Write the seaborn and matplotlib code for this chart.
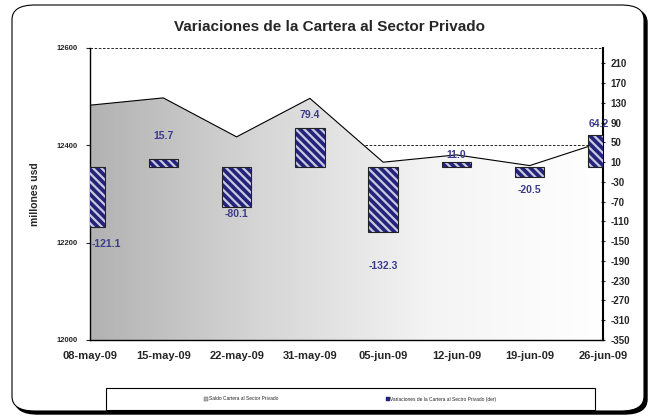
import numpy as np
import pandas as pd
import seaborn as sns
import matplotlib.pyplot as plt
from matplotlib.patches import FancyBboxPatch, Polygon, Patch, Rectangle
from matplotlib.colors import LinearSegmentedColormap

# Data
fechas = ['08-may-09', '15-may-09', '22-may-09', '31-may-09',
          '05-jun-09', '12-jun-09', '19-jun-09', '26-jun-09']
saldo = [12482, 12497, 12417, 12496, 12365, 12380, 12358, 12407]
variacion = [-121.1, 15.7, -80.1, 79.4, -132.3, 11.0, -20.5, 64.2]
# label offsets in points (Excel placed them irregularly)
label_off = [-12, 17, -5, 9, -24, 5, -9, 8]
label_dx = [12, 0, 0, 0, 0, 0, 0, -3]

df = pd.DataFrame({'fecha': fechas, 'pos': range(len(fechas)),
                   'saldo': saldo, 'variacion': variacion})

sns.set_style('white')
plt.rcParams['font.family'] = ['Liberation Sans', 'DejaVu Sans']
plt.rcParams['font.weight'] = 'bold'
plt.rcParams['axes.unicode_minus'] = False
plt.rcParams['hatch.linewidth'] = 1.6

fig = plt.figure(figsize=(6.52, 4.17), dpi=100)

# rounded frame with shadow
shadow = FancyBboxPatch((15 / 652, 3 / 417), 632 / 652, 406 / 417,
                        boxstyle='round,pad=0,rounding_size=0.035',
                        transform=fig.transFigure, facecolor='black',
                        edgecolor='black', lw=1, zorder=-2)
frame = FancyBboxPatch((12 / 652, 6 / 417), 632 / 652, 406 / 417,
                       boxstyle='round,pad=0,rounding_size=0.035',
                       transform=fig.transFigure, facecolor='white',
                       edgecolor='black', lw=0.8, zorder=-1)
legbox = Rectangle((106 / 652, 7 / 417), 489 / 652, 22 / 417,
                   transform=fig.transFigure, facecolor='white',
                   edgecolor='black', lw=0.8, zorder=-0.5)
fig.patches.extend([shadow, frame, legbox])

ax = fig.add_axes([90 / 652, 77 / 417, 513 / 652, 292.3 / 417])
ax.set_facecolor('none')

# dashed gridlines (hidden under the area)
for v in [12400, 12600]:
    ax.axhline(v, color='black', ls=(0, (3, 2)), lw=0.6, zorder=0.5)

# gradient area
grad = LinearSegmentedColormap.from_list('g', ['#b2b2b2', '#d6d6d6', '#f4f4f4', '#ffffff'])
img = ax.imshow(np.linspace(0, 1, 256).reshape(1, -1), cmap=grad, aspect='auto',
                extent=[0, len(fechas) - 1, 12000, 12600], zorder=1)
poly = Polygon(list(zip(df['pos'], df['saldo'])) + [(len(fechas) - 1, 12000), (0, 12000)],
               closed=True, transform=ax.transData, facecolor='none', edgecolor='none')
ax.add_patch(poly)
img.set_clip_path(poly)
sns.lineplot(data=df, x='pos', y='saldo', ax=ax, color='black', lw=0.8, zorder=2)
ax.set_xlim(0, len(fechas) - 1)
ax.set_ylim(12000, 12600)
ax.set_yticks([12000, 12200, 12400, 12600])

ax.set_xticks(df['pos'])
ax.set_xticklabels(fechas, fontsize=8, fontweight='bold')
ax.tick_params(axis='y', labelsize=5.5, length=3, direction='out', left=True, pad=6)
ax.tick_params(axis='x', length=3, direction='in', bottom=True, pad=8)
ax.set_xlabel('')
ax.set_ylabel('millones usd', fontsize=7.5, fontweight='bold', labelpad=12)
for s in ['top', 'right']:
    ax.spines[s].set_visible(False)
for s in ['left', 'bottom']:
    ax.spines[s].set_color('black')
    ax.spines[s].set_linewidth(1)
    ax.spines[s].set_zorder(5)

# bars on right axis
ax2 = ax.twinx()
sns.barplot(data=df, x='pos', y='variacion', ax=ax2, native_scale=True, width=0.4,
            color='#23237a', edgecolor='#c8c8e0', hatch='\\\\\\\\', linewidth=0,
            saturation=1, zorder=3)
sns.barplot(data=df, x='pos', y='variacion', ax=ax2, native_scale=True, width=0.4,
            fill=False, edgecolor='#222222', linewidth=0.8, zorder=4)
ax2.set_xlim(0, len(fechas) - 1)
ax2.set_ylim(-350, 241.6)
ax2.set_yticks(np.arange(-350, 211, 40))
ax2.tick_params(axis='y', labelsize=7, length=3, direction='inout', right=True, pad=4)
ax2.set_ylabel('')
ax2.set_xlabel('')
for s in ['top', 'left', 'bottom']:
    ax2.spines[s].set_visible(False)
ax2.spines['right'].set_color('black')
ax2.spines['right'].set_linewidth(1.5)

for p, v, dy, dx in zip(df['pos'], variacion, label_off, label_dx):
    ax2.annotate(f'{v:.1f}', (p, v), xytext=(dx, dy), textcoords='offset points',
                 ha='center', va='center', fontsize=7.5, fontweight='bold',
                 color='#3c3c8c', zorder=5, annotation_clip=False)

fig.text(0.505, 0.935, 'Variaciones de la Cartera al Sector Privado',
         ha='center', va='center', fontsize=11, fontweight='bold')

# legend entries inside the bottom box
handles = [Patch(facecolor='#b2b2b2', edgecolor='#555555', lw=0.3),
           Patch(facecolor='#23237a', edgecolor='#23237a', lw=0.3)]
fig.legend(handles, ['Saldo Cartera al Sector Privado',
                     'Variaciones de la Cartera al Sectro Privado (der)'],
           loc='center left', bbox_to_anchor=(202 / 652, 1 - 399 / 417), ncol=2,
           prop={'size': 3.5, 'weight': 'normal'}, frameon=False,
           handlelength=0.8, handleheight=0.8, handletextpad=0.2,
           columnspacing=22, borderpad=0)

plt.savefig('out.png', dpi=100)
